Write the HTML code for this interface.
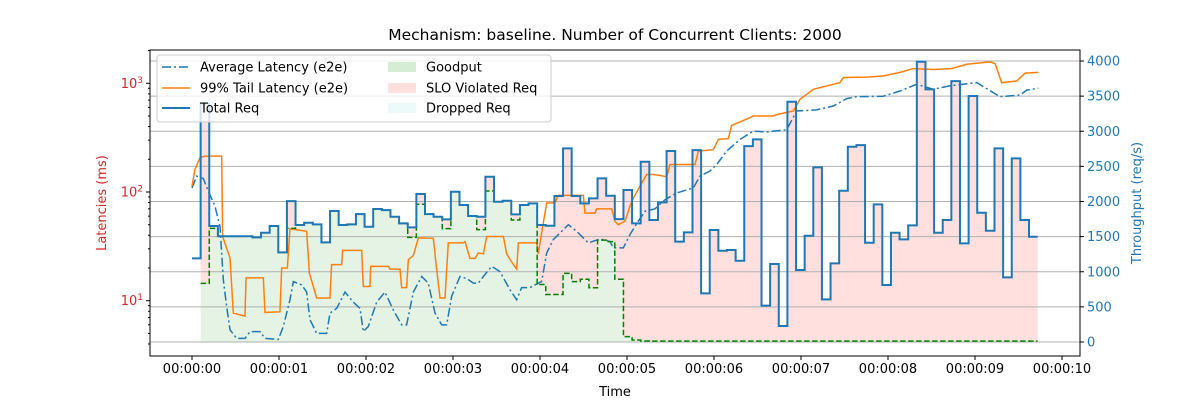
<!DOCTYPE html>
<html><head><meta charset="utf-8"><style>
body{margin:0;background:#fff;}
svg text{font-family:"DejaVu Sans","Liberation Sans",sans-serif;}
</style></head><body>
<svg id="chart" width="1200" height="400" xmlns="http://www.w3.org/2000/svg"></svg>
<script>
// ---- data ----
const totalReq = [1191,3396,1651,1505,1505,1505,1505,1490,1555,1651,1276,2006,1665,1698,1675,1418,1864,1665,1675,1821,1641,1893,1878,1783,1689,1632,2106,1821,1783,1746,2139,1950,1793,1783,2353,1997,2011,1817,1950,1973,1665,1655,2078,2756,2078,1973,2045,2329,
2082,1750,2163,1689,2566,1736,1988,2718,1428,1561,2732,693,1594,1299,1309,1157,2789,2884,517,1110,228,3420,1025,1513,2486,607,1119,2153,2780,2803,1413,1959,811,1556,1461,1660,3989,3596,1556,1736,3714,1404,3501,1840,1584,2756,920,2614,1736,1498];
const goodput = [1191,835,1617,1505,1505,1505,1505,1490,1555,1651,1276,1617,1665,1698,1675,1418,1864,1665,1675,1821,1641,1893,1878,1783,1689,1490,1960,1821,1783,1613,2139,1950,1793,1600,2150,1997,2011,1736,1950,1973,818,676,676,977,859,893,772,1451,
1428,893,76,28,14,12,12,12,12,12,12,12,12,12,12,12,12,12,12,12,12,12,12,12,12,12,12,12,12,12,12,12,12,12,12,12,12,12,12,12,12,12,12,12,12,12,12,12,12,12];
const tailT = [0,0.034,0.092,0.149,0.341,0.352,0.437,0.475,0.609,0.621,0.82,0.839,1.011,1.031,1.096,1.126,1.318,1.349,1.433,1.586,1.605,1.72,1.732,1.95,1.969,2.046,2.054,2.257,2.276,2.391,2.41,2.467,2.487,2.544,2.602,2.774,2.812,2.851,2.908,2.946,3.119,3.138,3.195,3.253,3.291,3.349,3.387,3.579,3.617,3.655,3.732,3.751,3.962,3.981,4.0,4.057,4.077,4.172,4.211,4.498,4.517,4.632,4.651,4.805,4.824,4.862,4.9,4.977,5.034,5.073,5.226,5.303,5.379,5.456,5.494,5.782,5.82,5.992,6.05,6.165,6.203,6.414,6.452,6.682,6.72,6.912,6.989,7.142,7.448,7.487,7.755,7.946,8.138,8.291,8.521,8.73,8.904,9.172,9.23,9.307,9.479,9.575,9.728];
const tailV = [113,161,207,214,214,39,24.7,7.7,7.2,16.2,16.2,7.8,7.9,20,20,45.8,43.5,18,10.6,10.6,21.5,21.5,29,29,13.5,13.5,20.7,20.7,19.5,19.5,13.2,13.2,23.9,26,37.8,37.5,19.5,10.6,10.6,34,34,35,24.5,24.5,27.5,27,39,39,27,24,19.5,34,34,27,34,64,79.5,79.5,93,93,64,64,70,70,70,53.8,50,53.8,74,88,145,145,142,138,179,179,238,245,305,310,410,483,500,500,515,556,713,880,1014,1130,1140,1167,1260,1366,1340,1366,1497,1573,1520,1014,1050,1240,1260];
const avgT = [0,0.054,0.13,0.188,0.264,0.322,0.36,0.398,0.437,0.513,0.609,0.667,0.782,0.839,0.992,1.05,1.126,1.165,1.261,1.318,1.356,1.433,1.548,1.586,1.663,1.759,1.854,1.931,1.969,2.027,2.123,2.218,2.314,2.41,2.467,2.544,2.64,2.716,2.793,2.87,2.927,2.985,3.08,3.157,3.234,3.291,3.349,3.444,3.54,3.655,3.732,3.789,3.885,3.981,4.019,4.077,4.153,4.326,4.421,4.556,4.69,4.805,4.843,4.958,5.034,5.13,5.207,5.322,5.437,5.571,5.762,5.839,5.954,6.031,6.146,6.299,6.452,6.605,6.835,6.95,7.18,7.372,7.525,7.64,7.946,8.138,8.33,8.521,8.713,9.02,9.287,9.517,9.594,9.728];
const avgV = [109,140,133,101.6,74,48,15.6,8.9,5.4,4.5,4.5,5.2,5.2,4.5,4.4,5.8,10.2,15,14,12,6.7,5,5,7.7,8.5,12,9.7,8.5,5.2,5.8,9.7,12,8.2,6,6,12,16.7,14.5,7.7,6,6,11,16.7,16,14.5,14.5,16.7,20.7,18.5,12.6,10.2,13.2,13.2,14.5,15,27.5,36.5,50,43.5,34,37,35,30.6,30.6,40.6,54,66.5,70,85,98,109,140,156,179,238,305,363,357,374,556,570,618,723,754,760,849,979,880,950,1014,754,780,865,900];
const xTicks = [0,1,2,3,4,5,6,7,8,9,10];
const xTickLabels = ["00:00:00","00:00:01","00:00:02","00:00:03","00:00:04","00:00:05","00:00:06","00:00:07","00:00:08","00:00:09","00:00:10"];
const yRightTicks = [0,500,1000,1500,2000,2500,3000,3500,4000];
const yLeftMajor = [10,100,1000];

// ---- axes ----
const L=150, R=1080, T=50, B=356;
const X = t => 192 + t*87;
const YL = v => 300.7 - 108.7*(Math.log10(v)-1);
const YR = v => 342 - v*(281/4000);
const dt = 9.72/totalReq.length;
const svg = document.getElementById('chart');
const NS='http://www.w3.org/2000/svg';
function mk(tag, attrs, parent){const e=document.createElementNS(NS,tag);for(const k in attrs)e.setAttribute(k,attrs[k]);(parent||svg).appendChild(e);return e;}

// fills (step)
function stepPts(arr, start){let p=[];for(let i=start;i<arr.length;i++){p.push([X(i*dt),YR(arr[i])]);p.push([X((i+1)*dt),YR(arr[i])]);}return p;}
const gp = stepPts(goodput,1), tp = stepPts(totalReq,1);
const base = YR(0);
let d = 'M'+gp[0][0]+','+base+' '+gp.map(p=>'L'+p[0]+','+p[1]).join(' ')+' L'+gp[gp.length-1][0]+','+base+'Z';
const gFill = mk('path',{d:d,fill:'#2ca02c','fill-opacity':0.13});


d = 'M'+tp.map(p=>p[0]+','+p[1]).join(' L')+' L'+gp.slice().reverse().map(p=>p[0]+','+p[1]).join(' L')+'Z';
const sFill = mk('path',{d:d,fill:'#ff9896','fill-opacity':0.3});



// grid (right axis)
yRightTicks.forEach(v=>{const g=mk('line',{x1:L,x2:R,y1:YR(v),y2:YR(v),stroke:'#b0b0b0','stroke-width':1});

});

// lines
function linePath(ts,vs,fx,fy){return 'M'+ts.map((t,i)=>fx(t)+','+fy(vs[i])).join(' L');}
const avg = mk('path',{d:linePath(avgT,avgV,X,YL),fill:'none',stroke:'#1f77b4','stroke-width':1.5,'stroke-dasharray':'9,3,2,3'});


const tail = mk('path',{d:linePath(tailT,tailV,X,YL),fill:'none',stroke:'#ff7f0e','stroke-width':1.5});


const gpl = stepPts(goodput,1);
const gl = mk('path',{d:'M'+gpl.map(p=>p[0]+','+p[1]).join(' L'),fill:'none',stroke:'#008000','stroke-width':1.5,'stroke-dasharray':'5.5,2.5'});


const tl = stepPts(totalReq,0);
const tot = mk('path',{d:'M'+tl.map(p=>p[0]+','+p[1]).join(' L'),fill:'none',stroke:'#1f77b4','stroke-width':2});



// frame
const fr = mk('rect',{x:L,y:T,width:R-L,height:B-T,fill:'none',stroke:'#000','stroke-width':1});



// x ticks
xTicks.forEach((t,i)=>{mk('line',{x1:X(t),x2:X(t),y1:B,y2:B+4,stroke:'#000'});
const tx=mk('text',{x:X(t),y:B+17,'font-size':13,'text-anchor':'middle',fill:'#000'});tx.textContent=xTickLabels[i];

});
// right ticks
yRightTicks.forEach(v=>{mk('line',{x1:R,x2:R+4,y1:YR(v),y2:YR(v),stroke:'#000'});
const tx=mk('text',{x:R+7,y:YR(v)+4.5,'font-size':13,fill:'#1f77b4'});tx.textContent=v;

});
// left ticks
for(let e=0;e<=3;e++)for(let m=1;m<10;m++){const v=m*Math.pow(10,e);const y=YL(v);if(y<T||y>B)continue;
mk('line',{x1:L-(m==1?4:2),x2:L,y1:y,y2:y,stroke:'#000'});}
yLeftMajor.forEach(v=>{const tx=mk('text',{x:L-7,y:YL(v)+4.5,'font-size':13,'text-anchor':'end',fill:'#d62728'});
tx.innerHTML='10<tspan font-size="9" dy="-5">'+Math.round(Math.log10(v))+'</tspan>';

});

// labels
function lab(txt,x,y,opts,name){const t=mk('text',Object.assign({x:x,y:y,'font-size':13,'text-anchor':'middle'},opts));t.textContent=txt;

return t;}
lab('Mechanism: baseline. Number of Concurrent Clients: 2000',615,40,{'font-size':15.5},'chart-title');
lab('Time',615,396,{},'x-axis-title');
lab('Latencies (ms)',106,203,{fill:'#d62728',transform:'rotate(-90 106 203)'},'left-axis-title');
lab('Throughput (req/s)',1141,203,{fill:'#1f77b4',transform:'rotate(-90 1141 203)'},'right-axis-title');

// legend
const lg = mk('g',{});


mk('rect',{x:157,y:55,width:394,height:67,rx:3,fill:'#fff','fill-opacity':0.8,stroke:'#ccc'},lg);
const items=[['Average Latency (e2e)','dashdot',162,67],['99% Tail Latency (e2e)','tail',162,88],['Total Req','total',162,108],
['Goodput','#2ca02c',388,67],['SLO Violated Req','#ff9896',388,88],['Dropped Req','#9fe8e8',388,108]];
items.forEach(it=>{const g=mk('g',{},lg);


const [n,s,x,y]=it;
if(s=='dashdot')mk('line',{x1:x,x2:x+28,y1:y,y2:y,stroke:'#1f77b4','stroke-width':1.5,'stroke-dasharray':'9,3,2,3'},g);
else if(s=='tail')mk('line',{x1:x,x2:x+28,y1:y,y2:y,stroke:'#ff7f0e','stroke-width':1.5},g);
else if(s=='total')mk('line',{x1:x,x2:x+28,y1:y,y2:y,stroke:'#1f77b4','stroke-width':2},g);
else mk('rect',{x:x,y:y-5,width:28,height:10,fill:s,'fill-opacity':s=='#ff9896'?0.3:0.2},g);
const t=mk('text',{x:x+38,y:y+4.5,'font-size':13},g);t.textContent=n;});
</script>
</body></html>
